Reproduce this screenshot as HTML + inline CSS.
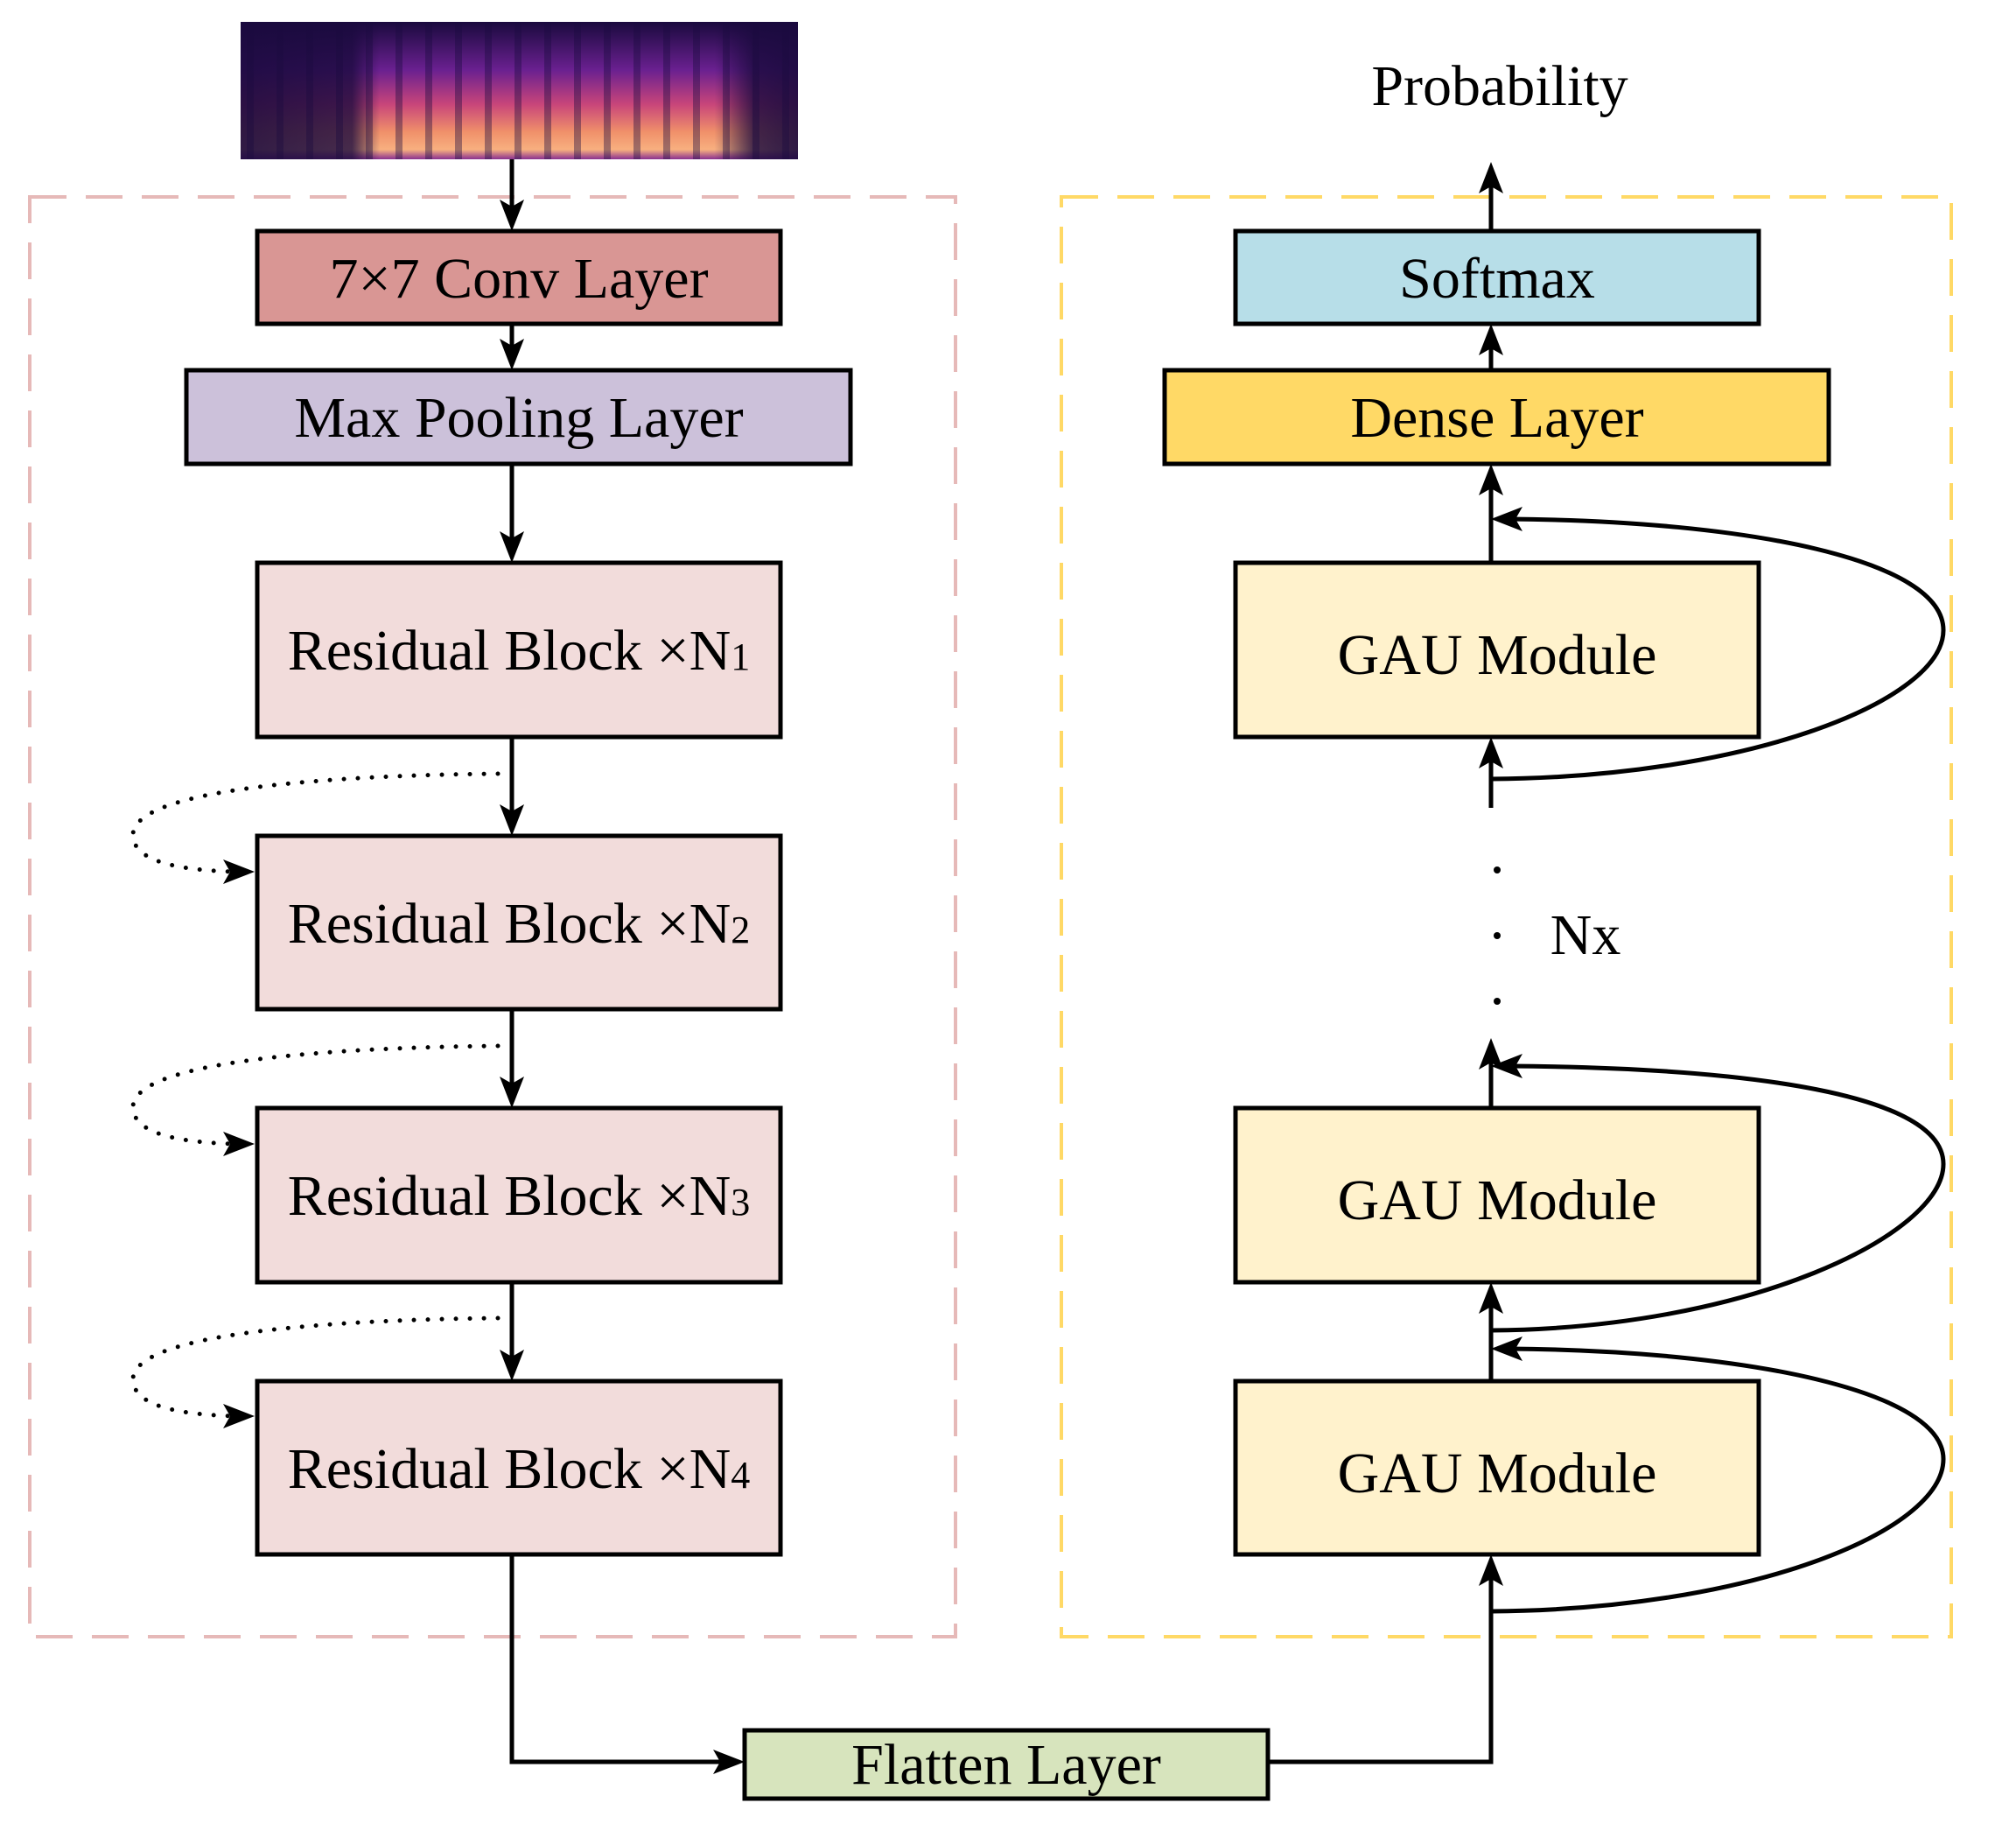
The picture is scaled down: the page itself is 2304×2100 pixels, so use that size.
<!DOCTYPE html>
<html><head><meta charset="utf-8"><style>
body{margin:0;background:#fff}
svg{display:block}
text{font-family:"Liberation Serif",serif;font-size:66px;fill:#000;text-anchor:middle}
</style></head><body>
<svg width="2304" height="2100" viewBox="0 0 2304 2100" xmlns="http://www.w3.org/2000/svg">
<defs>
<linearGradient id="sg" x1="0" y1="0" x2="0" y2="1">
<stop offset="0" stop-color="#1a0a3e"/><stop offset="0.35" stop-color="#6a2090"/><stop offset="0.6" stop-color="#c8457a"/><stop offset="0.8" stop-color="#f0906a"/><stop offset="0.93" stop-color="#f8b080"/><stop offset="1" stop-color="#8a3090"/>
</linearGradient>
<linearGradient id="sh" x1="0" y1="0" x2="1" y2="0">
<stop offset="0" stop-color="#1a0a3e" stop-opacity="0.9"/><stop offset="0.2" stop-color="#1a0a3e" stop-opacity="0.8"/><stop offset="0.25" stop-color="#1a0a3e" stop-opacity="0"/><stop offset="0.85" stop-color="#1a0a3e" stop-opacity="0"/><stop offset="0.92" stop-color="#1a0a3e" stop-opacity="0.8"/><stop offset="1" stop-color="#1a0a3e" stop-opacity="0.9"/>
</linearGradient>
<pattern id="vs" width="34" height="157" patternUnits="userSpaceOnUse"><rect x="10" width="8" height="157" fill="#1a0a3e" opacity="0.4"/></pattern>
</defs>
<rect x="275" y="25" width="637" height="157" fill="url(#sg)"/>
<rect x="275" y="25" width="637" height="157" fill="url(#vs)"/>
<rect x="275" y="25" width="637" height="157" fill="url(#sh)"/>
<path d="M34 225 H1092 V1870 H34 Z" fill="none" stroke="#e6b9b8" stroke-width="4" stroke-dasharray="42 22"/>
<path d="M1213 225 H2230 V1870 H1213 Z" fill="none" stroke="#ffd966" stroke-width="4" stroke-dasharray="42 22"/>
<g stroke="#000" stroke-width="5">
<rect x="294" y="264" width="598" height="106" fill="#d99694"/>
<rect x="213" y="423" width="759" height="107" fill="#ccc1da"/>
<rect x="294" y="643" width="598" height="199" fill="#f2dcdb"/>
<rect x="294" y="955" width="598" height="198" fill="#f2dcdb"/>
<rect x="294" y="1266" width="598" height="199" fill="#f2dcdb"/>
<rect x="294" y="1578" width="598" height="198" fill="#f2dcdb"/>
<rect x="1412" y="264" width="598" height="106" fill="#b7dee8"/>
<rect x="1331" y="423" width="759" height="107" fill="#ffd966"/>
<rect x="1412" y="643" width="598" height="199" fill="#fff2cc"/>
<rect x="1412" y="1266" width="598" height="199" fill="#fff2cc"/>
<rect x="1412" y="1578" width="598" height="198" fill="#fff2cc"/>
<rect x="851" y="1977" width="598" height="78" fill="#d7e4bd"/>
</g>
<g stroke="#000" stroke-width="5" fill="none">
<path d="M585 182 V245"/><path d="M585 370 V403"/><path d="M585 530 V623"/>
<path d="M585 842 V935"/><path d="M585 1153 V1246"/><path d="M585 1465 V1558"/>
<path d="M585 1776 V2013 H831"/><path d="M1449 2013 H1704 V1796"/>
<path d="M1704 264 V205"/><path d="M1704 423 V390"/><path d="M1704 643 V550"/>
<path d="M1704 923 V862"/><path d="M1704 1266 V1206"/><path d="M1704 1578 V1485"/>
<path d="M1704 890 C2000 888 2221 800 2221 720 C2221 640 2000 595 1724 593"/>
<path d="M1704 1520 C2000 1518 2221 1410 2221 1330 C2221 1250 2000 1220 1724 1218"/>
<path d="M1704 1841 C2000 1839 2221 1750 2221 1667 C2221 1590 2000 1543 1724 1541"/>
</g>
<g stroke="#000" stroke-width="5" fill="none" stroke-dasharray="0 16" stroke-linecap="round">
<path d="M569 884 C380 886 152 901 152 954 C152 986 210 994 266 996"/>
<path d="M569 1195 C380 1197 152 1212 152 1265 C152 1297 210 1305 266 1307"/>
<path d="M569 1506 C380 1508 152 1523 152 1576 C152 1608 210 1616 266 1618"/>
</g>
<g fill="#000">
<path d="M585 264 l-14 -36 l14 8 l14 -8 z"/>
<path d="M585 423 l-14 -36 l14 8 l14 -8 z"/>
<path d="M585 643 l-14 -36 l14 8 l14 -8 z"/>
<path d="M585 955 l-14 -36 l14 8 l14 -8 z"/>
<path d="M585 1266 l-14 -36 l14 8 l14 -8 z"/>
<path d="M585 1578 l-14 -36 l14 8 l14 -8 z"/>
<path d="M851 2013 l-36 -14 l8 14 l-8 14 z"/>
<path d="M1704 1776 l-14 36 l14 -8 l14 8 z"/>
<path d="M1704 1465 l-14 36 l14 -8 l14 8 z"/>
<path d="M1704 1186 l-14 36 l14 -8 l14 8 z"/>
<path d="M1704 842 l-14 36 l14 -8 l14 8 z"/>
<path d="M1704 530 l-14 36 l14 -8 l14 8 z"/>
<path d="M1704 370 l-14 36 l14 -8 l14 8 z"/>
<path d="M1704 185 l-14 36 l14 -8 l14 8 z"/>
<path d="M1704 593 l36 -14 l-8 14 l8 14 z"/>
<path d="M1704 1218 l36 -14 l-8 14 l8 14 z"/>
<path d="M1704 1541 l36 -14 l-8 14 l8 14 z"/>
<path d="M291 996 l-36 -14 l8 14 l-8 14 z"/>
<path d="M291 1307 l-36 -14 l8 14 l-8 14 z"/>
<path d="M291 1618 l-36 -14 l8 14 l-8 14 z"/>
<circle cx="1711" cy="994" r="4"/><circle cx="1711" cy="1069" r="4"/><circle cx="1711" cy="1144" r="4"/>
</g>
<text x="593" y="340">7×7 Conv Layer</text>
<text x="593" y="499">Max Pooling Layer</text>
<text x="593" y="765">Residual Block ×N<tspan font-size="44">1</tspan></text>
<text x="593" y="1077">Residual Block ×N<tspan font-size="44">2</tspan></text>
<text x="593" y="1388">Residual Block ×N<tspan font-size="44">3</tspan></text>
<text x="593" y="1700">Residual Block ×N<tspan font-size="44">4</tspan></text>
<text x="1711" y="340">Softmax</text>
<text x="1711" y="499">Dense Layer</text>
<text x="1711" y="770">GAU Module</text>
<text x="1711" y="1393">GAU Module</text>
<text x="1711" y="1705">GAU Module</text>
<text x="1150" y="2038">Flatten Layer</text>
<text x="1714" y="120">Probability</text>
<text x="1812" y="1090">Nx</text>
</svg>
</body></html>
